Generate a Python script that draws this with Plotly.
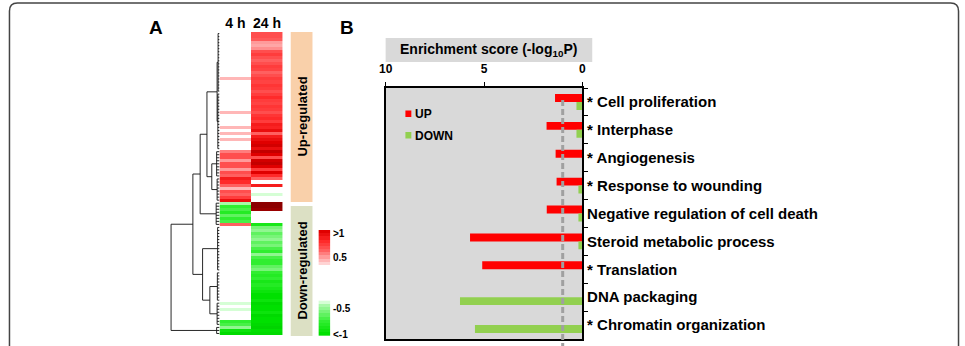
import plotly.graph_objects as go

W, H = 965, 346
FONT = "Liberation Sans, Arial, sans-serif"

# ---------------- Panel A data ----------------
ROWS = list(range(100))
COLS = [0, 1]
COL_LABELS = ["4 h", "24 h"]

H4 = ([0] * 15 + [0.55] + [0] * 10 + [0.55] + [0] * 4 + [0.55, 0, 0.55, 0, 0.55] + [0] * 3
      + [0.65, 0.75, 0.75, 0.6, 0.75, 0.75, 0.6, 0.75, 0.7, 0.9, 0.85, 0.7, 0.55, 0.75, 0.7, 0.8, 0.95]
      + [-0.55]
      + [-0.8, -0.75, -0.85, -0.7, -0.8, -0.75]
      + [0.7]
      + [0] * 25
      + [-0.5, 0, -0.5, 0, 0, 0]
      + [-0.8, -0.75, -0.6, -0.95, -1.05])

H24 = ([0.75, 0.75, 0.72]
       + [0.6, 0.58, 0.62]
       + [0.75, 0.8, 0.75, 0.7, 0.75, 0.8, 0.78, 0.7, 0.75]
       + [0.8, 0.78, 0.82, 0.8, 0.75, 0.8, 0.85, 0.8, 0.78, 0.82, 0.8, 0.75, 0.82, 0.85, 0.8]
       + [0.9, 0.88, 0.95, 0.7, 0.9, 0.95]
       + [1.0, 1.05, 0.95, 1.1, 1.0, 0.75, 1.05, 1.1, 1.0, 0.8, 1.0, 0.85, 0.7]
       + [0, 0.9, 0, 0, -0.5, 0, 0]
       + [1.3, 1.3, 1.25]
       + [0, 0, 0, 0]
       + [-0.9]
       + [-0.65, -0.6, -0.7, -0.65, -0.6, -0.7, -0.65]
       + [-0.75, -0.8, -0.6, -0.75, -0.8, -0.8, -0.7, -0.65, -0.8, -0.85, -0.8, -0.9, -0.85, -0.9]
       + [-0.95, -1.0, -1.0, -0.95, -1.05, -1.0, -1.0, -0.95, -1.05, -1.0, -1.0, -1.05, -1.1, -1.0, -1.05])

# dendrogram: leaf blocks (first row, last row, merge height) and tree of merges
DENDRO_BLOCKS = [(0, 19, 0.3), (20, 38, 0.35), (39, 47, 0.6), (48, 55, 0.5),
                 (56, 63, 0.7), (64, 78, 0.4), (79, 88, 0.45), (89, 96, 0.5), (97, 99, 0.6)]
DENDRO_TREE = (10.0, (5.5, (4.0, (2.6, (0.5, 0, 1), (1.6, 2, 3)), 4), (3.5, 5, (2.0, 6, 7))), 8)

KEY_UP = [1.0, 0.95, 0.9, 0.85, 0.8, 0.75, 0.7, 0.65, 0.6, 0.55, 0.5]
KEY_DOWN = [-0.5, -0.55, -0.6, -0.65, -0.7, -0.75, -0.8, -0.85, -0.9, -0.95, -1.0]
KEY_LABELS = [">1", "0.5", "-0.5", "<-1"]
GROUP_LABELS = ["Up-regulated", "Down-regulated"]

# ---------------- Panel B data ----------------
TERMS = ["* Cell proliferation", "* Interphase", "* Angiogenesis", "* Response to wounding",
         "Negative regulation of cell death", "Steroid metabolic process", "* Translation",
         "DNA packaging", "* Chromatin organization"]
UP = [1.39, 1.82, 1.36, 1.31, 1.81, 5.71, 5.09, 0, 0]
DOWN = [0.3, 0.3, 0, 0.2, 0.2, 0.2, 0, 6.22, 5.46]
X_TICKS = [10, 5, 0]
THRESH = 1.0
RED, GREEN = "#FF0000", "#92D050"

CS = [[0.0, '#00C800'], [0.08, '#00E000'], [0.16, '#30EE30'], [0.26, '#A8F8A8'],
      [0.285, '#E0FFE0'], [0.30, '#FFFFFF'], [0.66, '#FFFFFF'], [0.68, '#FFD4D4'],
      [0.76, '#FF6060'], [0.82, '#FF2A2A'], [0.88, '#E00000'], [1.0, '#8C0000']]
ZMIN, ZMAX = -1.2, 1.3


def px(x):
    return x / W


def py(y):
    return 1 - y / H


fig = go.Figure()

# heatmap
fig.add_trace(go.Heatmap(z=[[H4[i], H24[i]] for i in ROWS], x=COLS, y=ROWS,
                         colorscale=CS, zmin=ZMIN, zmax=ZMAX, showscale=False,
                         xaxis="x", yaxis="y", hoverinfo="skip"))

# dendrogram
dx, dy = [], []


def draw(node):
    if isinstance(node, int):
        s, e, h = DENDRO_BLOCKS[node]
        for r in range(s, e + 1):
            dx.extend([0, h, None]); dy.extend([r, r, None])
        dx.extend([h, h, None]); dy.extend([s, e, None])
        return (s + e) / 2, h
    h, a, b = node
    ya, ha = draw(a)
    yb, hb = draw(b)
    dx.extend([ha, h, h, hb, None]); dy.extend([ya, ya, yb, yb, None])
    return (ya + yb) / 2, h


draw(DENDRO_TREE)
fig.add_trace(go.Scatter(x=dx, y=dy, mode="lines", line=dict(color="#111111", width=0.9),
                         xaxis="x2", yaxis="y", hoverinfo="skip", showlegend=False))

# colour key
n_up = len(KEY_UP)
fig.add_trace(go.Heatmap(z=[[v] for v in KEY_UP], x=[0], y=list(range(n_up)),
                         colorscale=CS, zmin=ZMIN, zmax=ZMAX, showscale=False,
                         xaxis="x4", yaxis="y4", hoverinfo="skip"))
fig.add_trace(go.Heatmap(z=[[v] for v in KEY_DOWN], x=[0],
                         y=[2 * n_up + i for i in range(len(KEY_DOWN))],
                         colorscale=CS, zmin=ZMIN, zmax=ZMAX, showscale=False,
                         xaxis="x4", yaxis="y4", hoverinfo="skip"))

# bars
fig.add_trace(go.Bar(y=TERMS, x=UP, orientation="h", marker=dict(color=RED, line_width=0),
                     name="UP", xaxis="x3", yaxis="y3", showlegend=False))
fig.add_trace(go.Bar(y=TERMS, x=DOWN, orientation="h", marker=dict(color=GREEN, line_width=0),
                     name="DOWN", xaxis="x3", yaxis="y3", showlegend=False))

hidden = dict(visible=False, showgrid=False, zeroline=False, fixedrange=True)

fig.update_layout(
    width=W, height=H, margin=dict(l=0, r=0, t=0, b=0),
    paper_bgcolor="white", plot_bgcolor="white",
    font=dict(family=FONT, color="black"),
    barmode="group", bargap=0.43, bargroupgap=0,
    xaxis=dict(domain=[px(215), px(279)], range=[-0.5, 1.5], anchor="y", side="top",
               tickvals=COLS, ticktext=COL_LABELS, showgrid=False, zeroline=False,
               showline=False, ticks="", tickfont=dict(size=14, weight="bold")),
    yaxis=dict(domain=[py(335), py(32)], range=[99.5, -0.5], **hidden),
    xaxis2=dict(domain=[px(164), px(215)], range=[10.4, 0], anchor="y", **hidden),
    xaxis4=dict(domain=[px(315), px(327)], range=[-0.5, 0.5], anchor="y4", **hidden),
    yaxis4=dict(domain=[py(336), py(230)], range=[3 * n_up - 0.5, -0.5], anchor="x4", **hidden),
    xaxis3=dict(domain=[px(383), px(582)], range=[10, 0], anchor="y3", side="top",
                tickvals=X_TICKS, ticks="outside", ticklen=4, tickwidth=1.2, tickcolor="black",
                showline=True, linecolor="black", linewidth=1.5, mirror=True,
                showgrid=False, zeroline=False, ticklabelstandoff=4,
                tickfont=dict(size=12, weight="bold")),
    yaxis3=dict(domain=[py(339), py(88)], anchor="x3", side="right", type="category",
                categoryorder="array", categoryarray=TERMS, autorange="reversed",
                tickson="boundaries", ticks="outside", ticklen=4, tickwidth=1.2, tickcolor="black",
                showline=True, linecolor="black", linewidth=1.5, mirror=True,
                showgrid=False, zeroline=False, tickfont=dict(size=15, weight="bold")),
)

shapes = []
# outer rounded frame
r = 8
path = (f"M {px(2.5)},0 L {px(2.5)},{py(3 + r)} Q {px(2.5)},{py(3)} {px(2.5 + r)},{py(3)} "
        f"L {px(962.5 - r)},{py(3)} Q {px(962.5)},{py(3)} {px(962.5)},{py(3 + r)} L {px(962.5)},0")
shapes.append(dict(type="path", xref="paper", yref="paper", path=path,
                   line=dict(color="#444444", width=1.5)))
# group bars
shapes.append(dict(type="rect", xref="paper", yref="paper", x0=px(287), x1=px(309), y0=py(202), y1=py(32),
                   fillcolor="#F9D0AA", line_width=0, layer="below"))
shapes.append(dict(type="rect", xref="paper", yref="paper", x0=px(287), x1=px(309), y0=py(336), y1=py(206),
                   fillcolor="#DCE0C4", line_width=0, layer="below"))
# panel B plot background and header
shapes.append(dict(type="rect", xref="x3 domain", yref="y3 domain", x0=0, x1=1, y0=0, y1=1,
                   fillcolor="#D9D9D9", line_width=0, layer="below"))
shapes.append(dict(type="rect", xref="paper", yref="paper", x0=px(383), x1=px(592), y0=py(62), y1=py(38),
                   fillcolor="#D9D9D9", line_width=0, layer="below"))
# threshold
shapes.append(dict(type="line", xref="x3", yref="paper", x0=THRESH, x1=THRESH, y0=py(100), y1=0,
                   line=dict(color="#A0A0A0", width=3, dash="6px,3px"), layer="above"))
# legend swatches
shapes.append(dict(type="rect", xref="paper", yref="paper", x0=px(403), x1=px(409), y0=py(117), y1=py(110.5),
                   fillcolor=RED, line_width=0))
shapes.append(dict(type="rect", xref="paper", yref="paper", x0=px(403), x1=px(409), y0=py(138.5), y1=py(132),
                   fillcolor=GREEN, line_width=0))
fig.update_layout(shapes=shapes)

bold = dict(family=FONT, color="black", weight="bold")
ann = []


def add_text(text, x, y, size, xanchor="center", angle=0):
    ann.append(dict(text=text, x=px(x), y=py(y), xref="paper", yref="paper", showarrow=False,
                    xanchor=xanchor, yanchor="middle", textangle=angle,
                    font=dict(size=size, **bold)))


add_text("A", 151, 27, 19)
add_text("B", 344, 27, 19)
add_text(GROUP_LABELS[0], 298, 117, 13, angle=-90)
add_text(GROUP_LABELS[1], 298, 271, 13, angle=-90)
for lab, yy in zip(KEY_LABELS, [233, 257, 308, 334]):
    add_text(lab, 328, yy, 10, xanchor="left")
add_text("Enrichment score (-log<sub>10</sub>P)", 487, 50, 14)
add_text("UP", 411, 114, 12, xanchor="left")
add_text("DOWN", 411, 135.5, 12, xanchor="left")
fig.update_layout(annotations=ann)

fig.write_html("out.html")
